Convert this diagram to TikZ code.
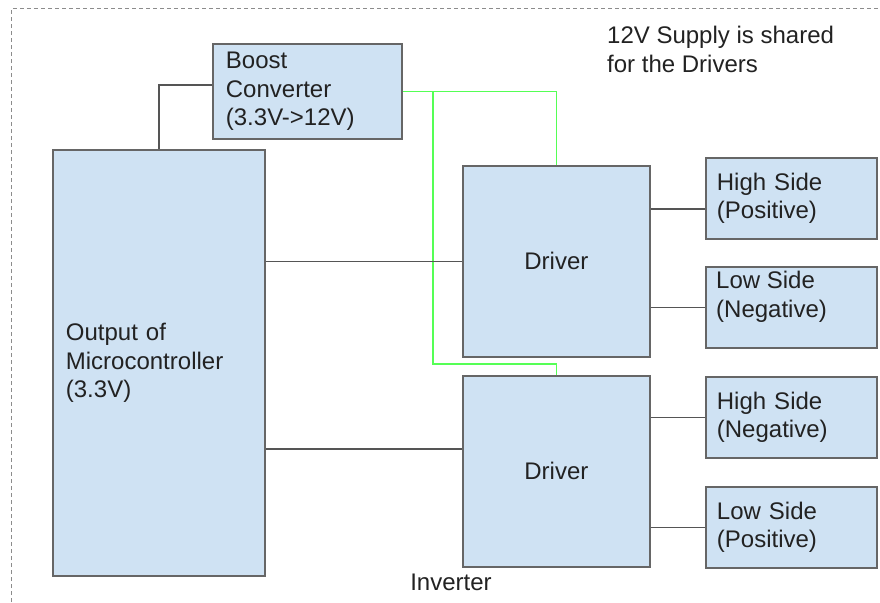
\documentclass[tikz,border=0pt]{standalone}
\usepackage{fontspec}
\setmainfont{Liberation Sans}
\usepackage{xcolor}
\definecolor{boxfill}{HTML}{CFE2F3}
\definecolor{boxline}{HTML}{666666}
\definecolor{wireclr}{HTML}{555555}
\definecolor{supplyclr}{HTML}{55FF55}
\definecolor{frameclr}{HTML}{8C8C8C}
\definecolor{txt}{HTML}{222222}
\usepackage{tikz}
\usetikzlibrary{positioning,calc}
\newcommand{\bigtxt}{\fontsize{24}{28.5}\selectfont}
\tikzset{
  blk/.style    = {draw=boxline,fill=boxfill,line width=1.8pt,anchor=north west,
                   inner xsep=13pt,inner ysep=0pt,align=left,text=txt,font=\bigtxt},
  drv/.style    = {blk,align=center,minimum width=187pt,minimum height=191pt},
  side/.style   = {blk,inner xsep=11pt,text width=149pt,minimum height=81pt},
  note/.style   = {inner sep=0pt,align=left,text=txt,font=\bigtxt},
  wire/.style   = {draw=wireclr,line width=1.6pt},
  supply/.style = {draw=supplyclr,line width=1.7pt},
  frame/.style  = {draw=frameclr,line width=1pt,dash pattern=on 4pt off 3pt},
}

\begin{document}
\begin{tikzpicture}[x=1pt,y=-1pt]
  \useasboundingbox (0,0) rectangle (880,602);
  \draw[frame] (11,602) |- (880,9);

  \node[blk,text width=163pt,minimum height=95pt] (boost) at (212,43)
    {Boost\\Converter\\(3.3V->12V)};
  \node[blk,text width=186pt,minimum height=426pt] (mcu) at (52,149)
    {Output of\\Microcontroller\\(3.3V)};
  \node[drv] (drv1) at (462,165) {Driver};
  \node[drv] (drv2) at (462,375) {Driver};
  \node[side] (hspos) at (705,157) {High Side\\(Positive)};
  \node[side,label={[note,anchor=north west,xshift=11pt,yshift=-5pt]north west:{Low Side\\(Negative)}}]
    (lsneg) at (705,266) {};
  \node[side] (hsneg) at (705,376) {High Side\\(Negative)};
  \node[side] (lspos) at (705,486) {Low Side\\(Positive)};

  \node[note,anchor=north west] (supplynote) at (607,26) {12V Supply is shared\\for the Drivers};
  \node[note,anchor=base] (inv) at (451,590) {Inverter};

  % 12V rail to both drivers
  \draw[supply] (boost.east) -| (drv1.north);
  \draw[supply] (boost.east -| 433,0) |- (drv2.north |- 0,364) -- (drv2.north);

  \draw[wire] (boost.west |- 0,85) -| (mcu.north);
  \draw[wire] (mcu.east |- drv1.west) -- (drv1.west);
  \draw[wire] (mcu.east |- 0,449) -- (drv2.west |- 0,449);
  \draw[wire] (drv1.east |- 0,209) -- (hspos.west |- 0,209);
  \draw[wire] (drv1.east |- lsneg.west) -- (lsneg.west);
  \draw[wire] (drv2.east |- hsneg.west) -- (hsneg.west);
  \draw[wire] (drv2.east |- lspos.west) -- (lspos.west);
\end{tikzpicture}
\end{document}
